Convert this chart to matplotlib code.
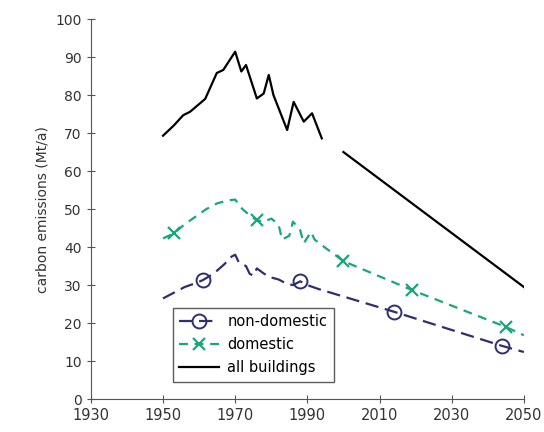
import matplotlib
matplotlib.use("Agg")
import matplotlib.pyplot as plt

plt.rcParams['font.family'] = ['DejaVu Sans']

# non-domestic (historical + projection)
nondom_years = [1950, 1953, 1956, 1959, 1961, 1964, 1967, 1969, 1970, 1971, 1973, 1974, 1975,
                1976, 1978, 1980, 1982, 1984, 1986, 1988, 1990, 1993, 2000, 2014, 2044, 2050]
nondom_vals = [26.5, 28, 29.5, 30.5, 31.3, 33, 35.5, 37.5, 38, 36, 35, 33, 32.5,
               34.4, 33, 32, 31.5, 30.5, 30, 31, 30, 29, 27, 23, 14, 12.4]
nondom_marks = [1961, 1988, 2014, 2044]

# domestic
dom_years = [1950, 1953, 1956, 1959, 1962, 1965, 1968, 1970, 1972, 1974, 1976, 1978, 1980,
             1982, 1983, 1985, 1986, 1988, 1989, 1991, 1992, 1994, 2000, 2019, 2045, 2050]
dom_vals = [42.3, 43.6, 46, 48, 50, 51.5, 52.3, 52.5, 50, 48.4, 47, 46.7, 47.5,
            46, 42, 43, 46.7, 44.5, 41, 44, 42, 40.5, 36.3, 28.7, 19, 16.8]
dom_marks = [1953, 1976, 2000, 2019, 2045]

# all buildings, historical and projection
all_years = [1950, 1953, 1955.6, 1957.5, 1961.7, 1964.9, 1966.7, 1970, 1971.7, 1973, 1976,
             1977.9, 1979.3, 1980.6, 1984.4, 1986.2, 1989, 1991.3, 1994]
all_vals = [69.3, 72, 74.7, 75.6, 79, 85.8, 86.6, 91.4, 86.2, 87.9, 79.1,
            80.4, 85.3, 80, 70.8, 78.2, 73, 75.2, 68.6]
proj_years = [2000, 2050]
proj_vals = [65, 29.5]

nondom_color = '#2f2f6e'
dom_color = '#19a67c'

fig = plt.figure(figsize=(5.44, 4.32), dpi=100)
ax = fig.add_axes([0.167, 0.076, 0.796, 0.88])

ax.plot(nondom_years, nondom_vals, color=nondom_color, lw=1.6, dashes=(6, 3),
        marker='o', markersize=10, markerfacecolor='none', markeredgewidth=1.4,
        markevery=[nondom_years.index(y) for y in nondom_marks], label='non-domestic')
ax.plot(dom_years, dom_vals, color=dom_color, lw=1.6, dashes=(4, 3),
        marker='x', markersize=9, markeredgewidth=1.6,
        markevery=[dom_years.index(y) for y in dom_marks], label='domestic')
ax.plot(all_years, all_vals, color='black', lw=1.6, label='all buildings')
ax.plot(proj_years, proj_vals, color='black', lw=1.6)

ax.set_xlim(1930, 2050)
ax.set_ylim(0, 100)
ax.set_xticks(range(1930, 2051, 20))
ax.set_yticks(range(0, 101, 10))
ax.spines['top'].set_visible(False)
ax.spines['right'].set_visible(False)
for s in ['left', 'bottom']:
    ax.spines[s].set_color('#555555')
ax.tick_params(direction='inout', length=6, colors='#555555', labelcolor='#333333', labelsize=10)
ax.tick_params(axis='x', labelsize=10.5)
ax.set_ylabel('carbon emissions (Mt/a)', fontsize=10, color='#333333')

leg = ax.legend(loc='lower left', bbox_to_anchor=(0.189, 0.045), fontsize=10.5,
                frameon=True, fancybox=False, edgecolor='#333333', handlelength=2.7,
                handletextpad=0.6, borderpad=0.45, labelspacing=0.55, borderaxespad=0)
leg.get_frame().set_linewidth(1.0)

fig.savefig('out.png')
